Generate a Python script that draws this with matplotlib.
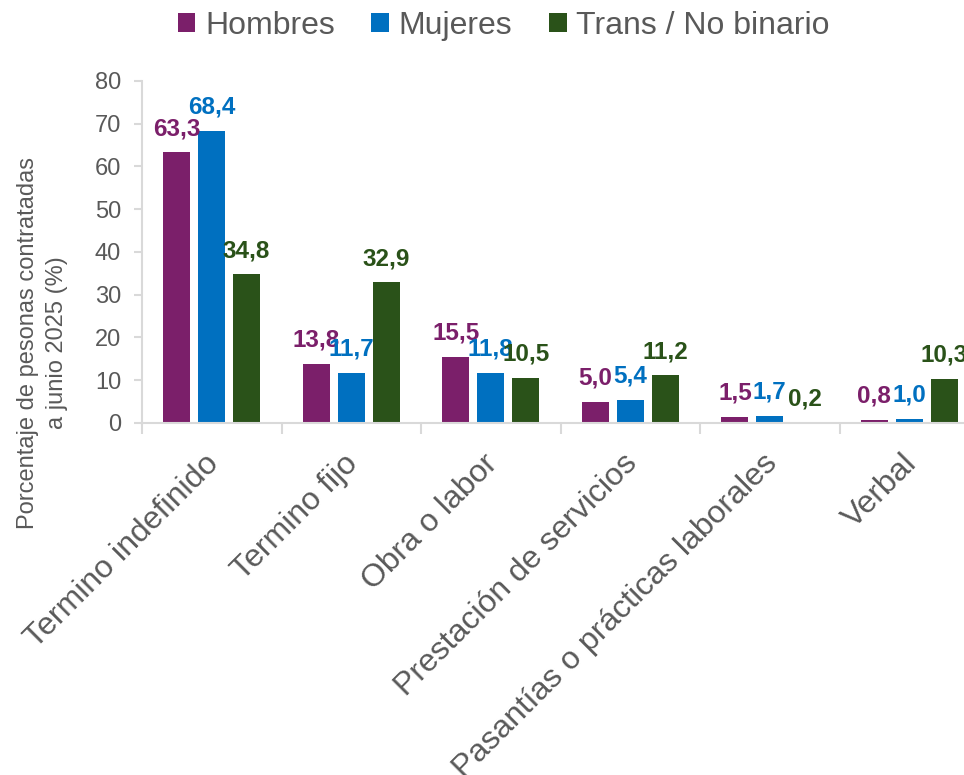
import numpy as np
import matplotlib.pyplot as plt
from matplotlib.transforms import ScaledTranslation

plt.rcParams['font.family'] = ['Liberation Sans', 'DejaVu Sans']

# data
categories = ['Termino indefinido', 'Termino fijo', 'Obra o labor',
              'Prestación de servicios', 'Pasantías o prácticas laborales', 'Verbal']
hombres = [63.3, 13.8, 15.5, 5.0, 1.5, 0.8]
mujeres = [68.4, 11.7, 11.8, 5.4, 1.7, 1.0]
trans = [34.8, 32.9, 10.5, 11.2, 0.2, 10.3]

series = [('Hombres', hombres, '#7B1F6A'),
          ('Mujeres', mujeres, '#0070C0'),
          ('Trans / No binario', trans, '#2A5219')]

gray = '#595959'
axis_gray = '#D9D9D9'

fig = plt.figure(figsize=(9.64, 7.75), dpi=100)
ax = fig.add_axes([0.1473, 0.4542, 0.8683, 0.4413])

x = np.arange(len(categories))
w = 0.194
step = 0.25
for i, (name, vals, col) in enumerate(series):
    pos = x + (i - 1) * step
    ax.bar(pos, vals, width=w, color=col, label=name)
    for p, v in zip(pos, vals):
        ax.annotate(('%.1f' % v).replace('.', ','), (p, v), xytext=(0, 17),
                    textcoords='offset points', ha='center', va='center',
                    fontsize=17.5, fontweight='bold', color=col)

ax.set_xlim(-0.5, len(categories) - 0.5)
ax.set_ylim(0, 80)
ax.set_yticks(range(0, 81, 10))
ax.tick_params(axis='y', labelsize=17, colors=gray, length=6, color=axis_gray,
               width=1.5, pad=9)
ax.set_xticks(x)
ax.set_xticklabels(categories, rotation=45, ha='right', va='top',
                   rotation_mode='anchor', fontsize=23, color=gray)
ax.tick_params(axis='x', length=0, pad=14)
shift = ScaledTranslation(-8 / 100, -6 / 100, fig.dpi_scale_trans)
for lab in ax.get_xticklabels():
    lab.set_transform(lab.get_transform() + shift)
ax.set_xticks(np.arange(-0.5, len(categories), 1), minor=True)
ax.tick_params(axis='x', which='minor', length=8, color=axis_gray, width=1.5)

for s in ['top', 'right']:
    ax.spines[s].set_visible(False)
for s in ['left', 'bottom']:
    ax.spines[s].set_color(axis_gray)
    ax.spines[s].set_linewidth(1.5)

fig.text(42.5 / 964, 1 - 343 / 775, 'Porcentaje de pesonas contratadas\na junio 2025 (%)',
         rotation=90, ha='center', va='center', multialignment='center',
         fontsize=17, color=gray, linespacing=1.45)

fig.legend(loc='center', bbox_to_anchor=(0.5225, 1 - 26 / 775), ncol=3,
           fontsize=23, frameon=False, handlelength=0.55, handleheight=0.55,
           handletextpad=0.3, columnspacing=1.15, labelcolor=gray)

fig.savefig('out.png', dpi=100)
